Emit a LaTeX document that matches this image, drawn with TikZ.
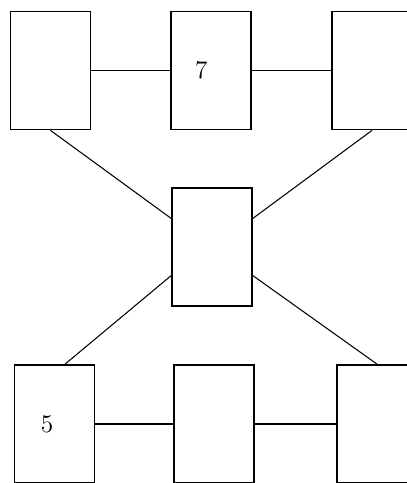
\documentclass[tikz,border=0pt]{standalone}
\usepackage{tikz}
\usetikzlibrary{positioning}

\begin{document}
\begin{tikzpicture}[
    node distance=1.58cm,
    blk/.style={draw,rectangle,line width=1pt,minimum width=1.6cm,minimum height=2.36cm,inner sep=0pt},
    lbl/.style={font=\Large},
    link/.style={line width=1.1pt},
    diag/.style={line width=0.6pt}
  ]
  \useasboundingbox (0,0) rectangle (8.14,-9.66);
  \clip (0,0) rectangle (8.14,-9.66);
  % top row
  \node[blk] (T1) at (1.01,-1.41) {};
  \node[blk] (T2) [right=of T1] {};
  \node[blk] (T3) [right=of T2] {};
  % middle
  \node[blk] (M) at (4.24,-4.94) {};
  % bottom row
  \node[blk] (B1) at (1.09,-8.48) {};
  \node[blk] (B2) [right=1.56cm of B1] {};
  \node[blk] (B3) [right=1.62cm of B2] {};
  \node[lbl] (N7) at ([xshift=-0.2cm]T2.center) {7};
  \node[lbl] (N5) at ([xshift=-0.15cm]B1.center) {5};
  \draw[link] (T1) -- (T2);
  \draw[link] (T2) -- (T3);
  \draw[link] (B1) -- (B2);
  \draw[link] (B2) -- (B3);
  \draw[diag] (T1.south) -- (M.145);
  \draw[diag] (T3.south) -- (M.35);
  \draw[diag] (B1.80) -- (M.215);
  \draw[diag] (B3.north) -- (M.325);
\end{tikzpicture}
\end{document}
